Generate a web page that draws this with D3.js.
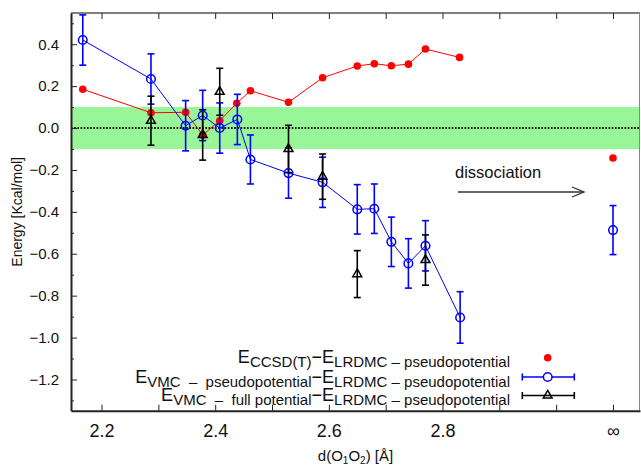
<!DOCTYPE html>
<html><head><meta charset="utf-8">
<script src="https://cdn.jsdelivr.net/npm/d3@7"></script>
<style>
body{margin:0;background:#fff;}
svg{display:block;font-family:"Liberation Sans",Arial,sans-serif;}
</style></head>
<body>
<script>
// ---- data ----
const INF_POS = 3.1; // position where "∞" (dissociated limit) is drawn
const xCCSD = [2.167, 2.287, 2.348, 2.378, 2.408, 2.438, 2.462, 2.529, 2.589, 2.650, 2.680, 2.710, 2.740, 2.770, 2.830];
const eCCSD = [0.185, 0.073, 0.075, -0.033, 0.035, 0.118, 0.178, 0.123, 0.240, 0.296, 0.307, 0.297, 0.305, 0.377, 0.337];
const eCCSDInf = -0.143;

const xVMCpp = [2.167, 2.287, 2.348, 2.378, 2.408, 2.439, 2.462, 2.529, 2.589, 2.650, 2.680, 2.710, 2.740, 2.770, 2.831];
const eVMCpp = [0.420, 0.234, 0.011, 0.060, 0.000, 0.041, -0.150, -0.215, -0.259, -0.388, -0.385, -0.543, -0.646, -0.562, -0.904];
const errVMCpp = [0.12, 0.12, 0.12, 0.12, 0.12, 0.12, 0.117, 0.12, 0.12, 0.118, 0.118, 0.118, 0.118, 0.12, 0.123];
const eVMCppInf = -0.487, errVMCppInf = 0.117;

const xVMCfull = [2.287, 2.378, 2.408, 2.529, 2.589, 2.650, 2.770];
const eVMCfull = [0.035, -0.033, 0.173, -0.100, -0.232, -0.697, -0.630];
const errVMCfull = [0.117, 0.12, 0.112, 0.113, 0.108, 0.112, 0.12];

const xTickVals = [2.2, 2.3, 2.4, 2.5, 2.6, 2.7, 2.8, 2.9, 3.0, 3.1];
const xTickLabels = {"2.2":"2.2","2.4":"2.4","2.6":"2.6","2.8":"2.8","3.1":"∞"};
const yTickVals = [-1.2, -1.0, -0.8, -0.6, -0.4, -0.2, 0.0, 0.2, 0.4];
const yMinorVals = [-1.3,-1.1,-0.9,-0.7,-0.5,-0.3,-0.1,0.1,0.3,0.5];
const bandRange = [-0.1, 0.1];

// ---- layout ----
const W = 641, H = 466;
const L = 71, R = 640, T = 13, B = 410.7;
const x = d3.scaleLinear().domain([2.1463, 3.1475]).range([L, R]);
const y = d3.scaleLinear().domain([-1.349, 0.549]).range([B, T]);

const svg = d3.select("body").append("svg").attr("width", W).attr("height", H);

// green band
svg.append("rect").attr("x", L).attr("width", R - L)
  .attr("y", y(bandRange[1])).attr("height", y(bandRange[0]) - y(bandRange[1]))
  .attr("fill", "#98f698");
// dotted zero line
svg.append("line").attr("x1", L).attr("x2", R).attr("y1", y(0)).attr("y2", y(0))
  .attr("stroke", "#000").attr("stroke-width", 2).attr("stroke-dasharray", "1.6,1.6");

// frame: top and right
svg.append("line").attr("x1", L).attr("x2", R).attr("y1", T).attr("y2", T).attr("stroke", "#000").attr("stroke-width", 1);
svg.append("line").attr("x1", R - 0.5).attr("x2", R - 0.5).attr("y1", T).attr("y2", B).attr("stroke", "#888").attr("stroke-width", 1);

// bottom axis
const xAxis = d3.axisBottom(x).tickValues(xTickVals).tickSizeInner(-6).tickSizeOuter(0)
  .tickFormat(d => xTickLabels[d.toFixed(1)] || "").tickPadding(14);
const gx = svg.append("g").attr("transform", `translate(0,${B})`).call(xAxis);
gx.select(".domain").attr("stroke", "#222").attr("stroke-width", 2);
gx.selectAll(".tick line").attr("stroke", "#222");
gx.selectAll("text").attr("font-size", 18).attr("fill", "#111").attr("font-family", "Liberation Sans, Arial, sans-serif");

// top axis ticks
const gxt = svg.append("g").attr("transform", `translate(0,${T})`)
  .call(d3.axisTop(x).tickValues(xTickVals).tickSizeInner(-6).tickSizeOuter(0).tickFormat(""));
gxt.select(".domain").remove();
gxt.selectAll(".tick line").attr("stroke", "#222");

// left axis
const yAxis = d3.axisLeft(y).tickValues(yTickVals).tickSizeInner(-6).tickSizeOuter(0)
  .tickFormat(d => d3.format(".1f")(d).replace("-", "−")).tickPadding(12);
const gy = svg.append("g").attr("transform", `translate(${L},0)`).call(yAxis);
gy.select(".domain").attr("stroke", "#222").attr("stroke-width", 2);
gy.selectAll(".tick line").attr("stroke", "#222");
gy.selectAll("text").attr("font-size", 15).attr("fill", "#111").attr("font-family", "Liberation Sans, Arial, sans-serif");
const gym = svg.append("g").attr("transform", `translate(${L},0)`)
  .call(d3.axisLeft(y).tickValues(yMinorVals).tickSizeInner(-3).tickSizeOuter(0).tickFormat(""));
gym.select(".domain").remove();
gym.selectAll(".tick line").attr("stroke", "#222");

// axis titles
svg.append("text").attr("transform", `translate(22,${(T + B) / 2}) rotate(-90)`)
  .attr("text-anchor", "middle").attr("font-size", 14).attr("fill", "#111").text("Energy [Kcal/mol]");
const xt = svg.append("text").attr("x", (L + R) / 2).attr("y", 461).attr("text-anchor", "middle")
  .attr("font-size", 15).attr("fill", "#111");
xt.append("tspan").text("d(O");
xt.append("tspan").attr("font-size", 10).attr("dy", 3).text("1");
xt.append("tspan").attr("dy", -3).text("O");
xt.append("tspan").attr("font-size", 10).attr("dy", 3).text("2");
xt.append("tspan").attr("dy", -3).text(") [Å]");

// ---- series ----
const capW = 3.5;
function errorBars(g, xs, vs, es, color, w) {
  xs.forEach((xv, i) => {
    const cx = x(xv), y1 = y(vs[i] + es[i]), y2 = y(vs[i] - es[i]);
    g.append("line").attr("x1", cx).attr("x2", cx).attr("y1", y1).attr("y2", y2).attr("stroke", color).attr("stroke-width", w);
    [y1, y2].forEach(yy => g.append("line").attr("x1", cx - capW).attr("x2", cx + capW).attr("y1", yy).attr("y2", yy).attr("stroke", color).attr("stroke-width", w));
  });
}
const line = d3.line().x(d => x(d[0])).y(d => y(d[1]));

// CCSD(T) red
const gRed = svg.append("g");
gRed.append("path").datum(xCCSD.map((v, i) => [v, eCCSD[i]])).attr("d", line)
  .attr("fill", "none").attr("stroke", "#ff0000").attr("stroke-width", 1);

// VMC pseudo blue
const gBlue = svg.append("g");
gBlue.append("path").datum(xVMCpp.map((v, i) => [v, eVMCpp[i]])).attr("d", line)
  .attr("fill", "none").attr("stroke", "#0000ff").attr("stroke-width", 1);
errorBars(gBlue, xVMCpp, eVMCpp, errVMCpp, "#0000ff", 1.6);
errorBars(gBlue, [INF_POS], [eVMCppInf], [errVMCppInf], "#0000ff", 1.6);

// VMC full black
const gBlack = svg.append("g");
errorBars(gBlack, xVMCfull, eVMCfull, errVMCfull, "#000", 1.6);

gRed.selectAll("circle.p").data(xCCSD.map((v, i) => [v, eCCSD[i]]).concat([[INF_POS, eCCSDInf]]))
  .join("circle").attr("cx", d => x(d[0])).attr("cy", d => y(d[1])).attr("r", 3.8).attr("fill", "#ff0000");
svg.append("g").selectAll("circle").data(xVMCpp.map((v, i) => [v, eVMCpp[i]]).concat([[INF_POS, eVMCppInf]]))
  .join("circle").attr("cx", d => x(d[0])).attr("cy", d => y(d[1])).attr("r", 4.3)
  .attr("fill", "none").attr("stroke", "#0000ff").attr("stroke-width", 1.5);
const tri = d3.symbol().type(d3.symbolTriangle).size(34);
svg.append("g").selectAll("path").data(xVMCfull.map((v, i) => [v, eVMCfull[i]]))
  .join("path").attr("d", tri).attr("transform", d => `translate(${x(d[0])},${y(d[1])})`)
  .attr("fill", "none").attr("stroke", "#000").attr("stroke-width", 1.5);

// dissociation annotation
svg.append("text").attr("x", 455).attr("y", 178).attr("font-size", 16.5).attr("fill", "#111").text("dissociation");
svg.append("line").attr("x1", 458).attr("x2", 584).attr("y1", 192).attr("y2", 192).attr("stroke", "#333").attr("stroke-width", 1.5);
svg.append("path").attr("d", "M572,187 L584,192 L572,197").attr("fill", "none").attr("stroke", "#333").attr("stroke-width", 1.3);

// ---- legend ----
const legRows = [
  {a: "CCSD(T)", b: "LRDMC – pseudopotential", y: 363.3, kind: "dot"},
  {a: "VMC  –  pseudopotential", b: "LRDMC – pseudopotential", y: 382.5, kind: "circ"},
  {a: "VMC  –  full potential", b: "LRDMC – pseudopotential", y: 401, kind: "tri"}
];
const legX = 510, symX = 547.7;
legRows.forEach(r => {
  const t = svg.append("text").attr("x", legX).attr("y", r.y).attr("text-anchor", "end").attr("fill", "#111")
    .attr("font-size", 18).style("white-space", "pre");
  t.append("tspan").text("E");
  t.append("tspan").attr("font-size", 15).attr("dy", 4).text(r.a);
  t.append("tspan").attr("dy", -4).text("−E");
  t.append("tspan").attr("font-size", 15).attr("dy", 4).text(r.b);
  const sy = r.y - 5.5;
  if (r.kind === "dot") {
    svg.append("circle").attr("cx", symX).attr("cy", sy).attr("r", 3.8).attr("fill", "#ff0000");
  } else {
    const col = r.kind === "circ" ? "#0000ff" : "#000";
    svg.append("line").attr("x1", 522.3).attr("x2", 574.3).attr("y1", sy).attr("y2", sy).attr("stroke", col).attr("stroke-width", 1.6);
    [522.3, 574.3].forEach(xx => svg.append("line").attr("x1", xx).attr("x2", xx).attr("y1", sy - 3.5).attr("y2", sy + 3.5).attr("stroke", col).attr("stroke-width", 1.6));
    if (r.kind === "circ") svg.append("circle").attr("cx", symX).attr("cy", sy).attr("r", 4.3).attr("fill", "#fff").attr("stroke", col).attr("stroke-width", 1.5);
    else svg.append("path").attr("d", tri).attr("transform", `translate(${symX},${sy})`).attr("fill", "none").attr("stroke", col).attr("stroke-width", 1.5);
  }
});
</script>
</body></html>
